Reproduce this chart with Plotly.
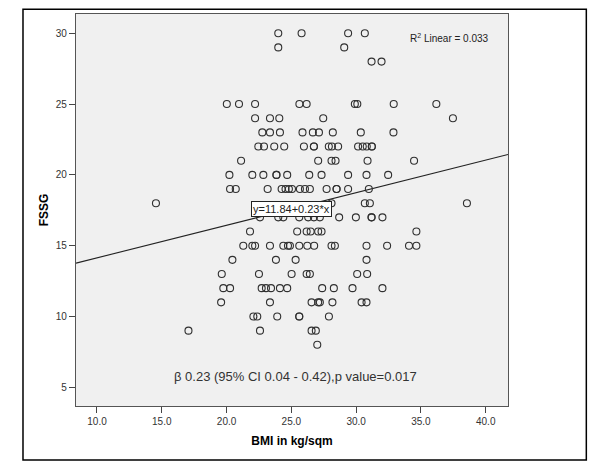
"""SPSS-style scatter: FSSG vs BMI with linear fit line."""

import plotly.graph_objects as go

# FSSG score rows (integer) and BMI values
FSSG_30 = [23.99, 25.79, 29.38, 30.67]
FSSG_29 = [23.99, 29.08]
FSSG_28 = [31.19, 31.96]
FSSG_25 = [20.02, 20.96, 22.20, 25.62, 26.18, 29.90, 30.09, 32.90, 36.19]
FSSG_24 = [22.20, 23.35, 24.07, 27.46, 37.47]
FSSG_23 = [22.76, 23.35, 24.12, 25.86, 26.66, 27.13, 28.20, 30.36, 32.88]
FSSG_22 = [22.45, 22.89, 23.68, 24.45, 25.97, 26.74, 26.74, 27.89, 28.13,
           28.61, 30.15, 30.51, 30.82, 31.21, 31.21]
FSSG_21 = [21.12, 27.07, 28.10, 28.41, 30.88, 34.47]
FSSG_20 = [20.22, 21.99, 22.84, 23.85, 23.85, 24.68, 26.38, 27.33, 29.38,
           30.80, 32.47]
FSSG_19 = [20.27, 20.71, 23.17, 24.25, 24.55, 24.81, 25.05, 25.66, 26.05,
           26.43, 27.72, 28.49, 28.49, 29.38, 30.98]
FSSG_18 = [14.55, 28.10, 30.67, 31.06, 38.55]
FSSG_17 = [22.58, 23.99, 24.38, 25.61, 26.30, 26.74, 27.20, 28.69, 29.98,
           31.19, 31.19, 32.03]
FSSG_16 = [21.81, 25.45, 26.18, 26.49, 27.07, 27.33, 34.65]
FSSG_15 = [21.29, 21.99, 22.20, 23.35, 24.38, 24.74, 24.89, 25.61, 26.23,
           26.76, 28.10, 28.36, 30.80, 32.39, 34.08, 34.65]
FSSG_14 = [20.45, 23.81, 25.33, 30.80]
FSSG_13 = [19.63, 22.50, 25.02, 26.18, 26.43, 30.08, 30.85]
FSSG_12 = [19.75, 20.27, 22.71, 23.04, 23.43, 24.12, 24.68, 27.38, 28.28,
           29.72, 32.03]
FSSG_11 = [19.58, 23.35, 26.56, 27.07, 27.20, 28.17, 30.42, 30.80]
FSSG_10 = [22.07, 22.37, 23.91, 25.61, 25.61, 27.90]
FSSG_9 = [17.06, 22.58, 26.56, 26.89]
FSSG_8 = [27.00]

ROWS = {30: FSSG_30, 29: FSSG_29, 28: FSSG_28, 25: FSSG_25, 24: FSSG_24,
        23: FSSG_23, 22: FSSG_22, 21: FSSG_21, 20: FSSG_20, 19: FSSG_19,
        18: FSSG_18, 17: FSSG_17, 16: FSSG_16, 15: FSSG_15, 14: FSSG_14,
        13: FSSG_13, 12: FSSG_12, 11: FSSG_11, 10: FSSG_10, 9: FSSG_9, 8: FSSG_8}

INTERCEPT = 11.84
SLOPE = 0.23
X_RANGE = [8.38, 41.72]
Y_RANGE = [3.68, 31.36]
X_TICKS = [10, 15, 20, 25, 30, 35, 40]
Y_TICKS = [5, 10, 15, 20, 25, 30]

bmi = [b for row in ROWS.values() for b in row]
fssg = [score for score, row in ROWS.items() for _ in row]

FONT = "Liberation Sans, Arial, sans-serif"

fig = go.Figure()
fig.add_trace(go.Scatter(
    x=X_RANGE, y=[INTERCEPT + SLOPE * v for v in X_RANGE], mode="lines",
    line=dict(color="#222222", width=1.1), hoverinfo="skip", showlegend=False,
))
fig.add_trace(go.Scatter(
    x=bmi, y=fssg, mode="markers",
    marker=dict(symbol="circle-open", size=7, color="#303030", line=dict(width=1.1)),
    showlegend=False,
))

fig.add_annotation(
    x=25.02, y=17.59, text=f"y={INTERCEPT}+{SLOPE}*x", showarrow=False,
    font=dict(family=FONT, size=11, color="#222222"),
    bgcolor="white", bordercolor="#222222", borderwidth=1, borderpad=1,
)
fig.add_annotation(
    x=33.98, y=29.67, xanchor="left", text="R<sup>2</sup> Linear = 0.033",
    showarrow=False, font=dict(family=FONT, size=10, color="#222222"),
)
fig.add_annotation(
    x=25.32, y=5.75, text="β 0.23 (95% CI 0.04 - 0.42),p value=0.017",
    showarrow=False, font=dict(family=FONT, size=13, color="#333333"),
)

# outer frame around the whole chart
fig.add_shape(type="rect", xref="paper", yref="paper",
              x0=-0.1227, x1=1.1813, y0=-0.1378, y1=1.012,
              line=dict(color="black", width=1.5), layer="above")

axis_common = dict(
    showgrid=False, zeroline=False, showline=True, mirror=True,
    linecolor="#555555", linewidth=1.2, ticks="outside", ticklen=6,
    tickcolor="#444444", tickfont=dict(family=FONT, size=10, color="#333333"),
)
fig.update_xaxes(
    range=X_RANGE, tickvals=X_TICKS, tickformat=".1f",
    title=dict(text="<b>BMI in kg/sqm</b>", standoff=10,
               font=dict(family=FONT, size=12, color="black")),
    **axis_common,
)
fig.update_yaxes(
    range=Y_RANGE, tickvals=Y_TICKS,
    title=dict(text="<b>FSSG</b>", standoff=4,
               font=dict(family=FONT, size=12, color="black")),
    **axis_common,
)
# page body adds an 8px margin, so the figure is sized to fit inside it
fig.update_layout(
    width=582, height=455, autosize=False,
    margin=dict(l=67.7, r=82.3, t=6, b=57),
    paper_bgcolor="white", plot_bgcolor="#F0F0F0",
)

fig.write_html("out.html")
